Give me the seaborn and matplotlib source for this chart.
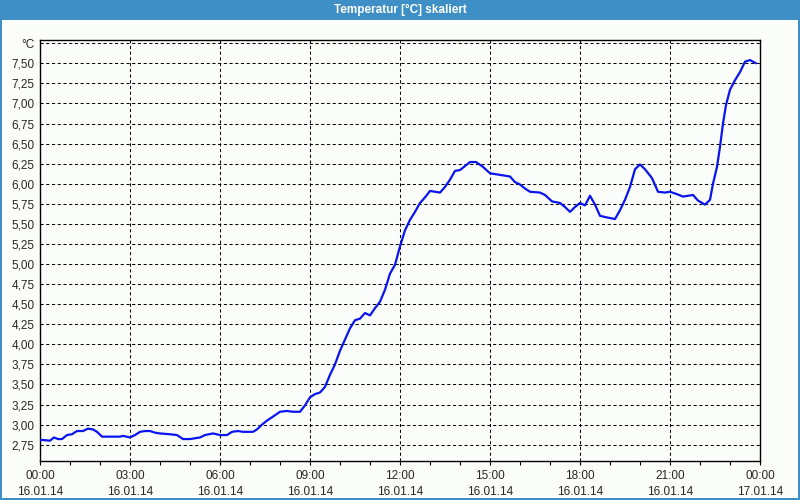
import matplotlib
matplotlib.use("Agg")
import matplotlib.pyplot as plt
import seaborn as sns
import pandas as pd
from matplotlib.patches import Rectangle
from matplotlib.ticker import FixedLocator, MultipleLocator

# ---- data (minutes after 16.01.14 00:00, temperature in °C) ----
minutes = [0, 3, 20, 28, 36, 44, 54, 64, 74, 86, 96, 106, 114, 124, 140, 160, 166, 180,
           190, 200, 210, 220, 230, 240, 260, 274, 286, 300, 320, 330, 346, 360, 374,
           384, 396, 406, 426, 434, 444, 454, 466, 480, 494, 506, 520, 530, 540, 550,
           560, 570, 580, 590, 600, 610, 620, 630, 640, 650, 660, 670, 680, 690, 700,
           710, 720, 730, 740, 750, 760, 770, 780, 790, 800, 810, 820, 830, 840, 850,
           860, 872, 886, 900, 910, 920, 940, 950, 960, 970, 980, 1000, 1010, 1024,
           1040, 1050, 1060, 1070, 1080, 1090, 1100, 1110, 1120, 1134, 1150, 1160,
           1170, 1180, 1190, 1200, 1210, 1224, 1236, 1250, 1260, 1274, 1286, 1306,
           1316, 1330, 1340, 1346, 1354, 1360, 1366, 1372, 1380, 1390, 1400, 1410,
           1420, 1432]
temps = [2.80, 2.81, 2.80, 2.84, 2.82, 2.82, 2.87, 2.88, 2.92, 2.92, 2.95, 2.94, 2.91,
         2.85, 2.85, 2.85, 2.86, 2.84, 2.87, 2.91, 2.92, 2.92, 2.90, 2.89, 2.88, 2.87,
         2.82, 2.82, 2.84, 2.87, 2.89, 2.87, 2.87, 2.91, 2.92, 2.91, 2.91, 2.94, 3.00,
         3.05, 3.10, 3.16, 3.17, 3.16, 3.16, 3.24, 3.34, 3.38, 3.40, 3.47, 3.62, 3.75,
         3.92, 4.06, 4.20, 4.30, 4.32, 4.39, 4.36, 4.45, 4.53, 4.68, 4.88, 4.99, 5.22,
         5.42, 5.55, 5.65, 5.76, 5.83, 5.91, 5.90, 5.89, 5.96, 6.05, 6.16, 6.17, 6.22,
         6.27, 6.27, 6.21, 6.13, 6.12, 6.11, 6.09, 6.02, 5.99, 5.94, 5.90, 5.89, 5.86,
         5.78, 5.76, 5.71, 5.65, 5.71, 5.76, 5.73, 5.85, 5.74, 5.60, 5.58, 5.56, 5.67,
         5.80, 5.96, 6.18, 6.24, 6.18, 6.07, 5.90, 5.89, 5.90, 5.87, 5.84, 5.86, 5.79,
         5.74, 5.80, 6.00, 6.21, 6.46, 6.75, 6.98, 7.17, 7.29, 7.39, 7.52, 7.54, 7.50]

x_tick_hours = [0, 3, 6, 9, 12, 15, 18, 21, 24]
x_tick_labels = ["00:00\n16.01.14", "03:00\n16.01.14", "06:00\n16.01.14",
                 "09:00\n16.01.14", "12:00\n16.01.14", "15:00\n16.01.14",
                 "18:00\n16.01.14", "21:00\n16.01.14", "00:00\n17.01.14"]
y_ticks = [2.75, 3.00, 3.25, 3.50, 3.75, 4.00, 4.25, 4.50, 4.75, 5.00, 5.25, 5.50,
           5.75, 6.00, 6.25, 6.50, 6.75, 7.00, 7.25, 7.50, 7.75]
y_tick_labels = ["2,75", "3,00", "3,25", "3,50", "3,75", "4,00", "4,25", "4,50",
                 "4,75", "5,00", "5,25", "5,50", "5,75", "6,00", "6,25", "6,50",
                 "6,75", "7,00", "7,25", "7,50", "°C"]
title = "Temperatur [°C] skaliert"

df = pd.DataFrame({"hours": [m / 60 for m in minutes], "temp": temps})

sns.set_style("white")
plt.rcParams["font.family"] = ["Liberation Sans", "DejaVu Sans"]

BG = "#FAFDFA"
BLUE_BAR = "#3D8FC6"

fig = plt.figure(figsize=(8, 5), dpi=100, facecolor=BG)
ax = fig.add_axes([40 / 800, (500 - 460.5) / 500, 720 / 800, (460.5 - 40) / 500])
ax.set_facecolor(BG)

sns.lineplot(data=df, x="hours", y="temp", ax=ax, color="#0A14EE",
             linewidth=1.6, zorder=3)

ax.set_xlim(0, 24)
ax.set_ylim(2.553, 7.79)

ax.xaxis.set_major_locator(FixedLocator(x_tick_hours))
ax.set_xticklabels(x_tick_labels)
ax.xaxis.set_minor_locator(MultipleLocator(1))
ax.set_yticks(y_ticks)
ax.set_yticklabels(y_tick_labels)

ax.tick_params(axis="x", which="both", direction="out", length=3, width=0.8,
               color="black", bottom=True, labelsize=8.5, pad=4)
ax.tick_params(axis="y", which="both", length=0, labelsize=8.5, pad=4, left=False)
for lbl in ax.get_xticklabels():
    lbl.set_linespacing(1.45)

ax.set_xlabel("")
ax.set_ylabel("")

grid_kw = dict(color="black", linewidth=0.75, linestyle=(0, (3, 2.5)), zorder=1)
for yv in y_ticks:
    ax.axhline(yv, **grid_kw)
for xv in x_tick_hours[1:-1]:
    ax.axvline(xv, **grid_kw)

for s in ax.spines.values():
    s.set_visible(True)
    s.set_color("black")
    s.set_linewidth(1.0)

# title bar and window border
fig.patches.append(Rectangle((0, 480 / 500), 1, 20 / 500, transform=fig.transFigure,
                             facecolor=BLUE_BAR, edgecolor="none", zorder=0))
fig.patches.append(Rectangle((0, 0), 1.5 / 800, 1, transform=fig.transFigure,
                             facecolor=BLUE_BAR, edgecolor="none", zorder=0))
fig.patches.append(Rectangle((1 - 2 / 800, 0), 2 / 800, 1, transform=fig.transFigure,
                             facecolor=BLUE_BAR, edgecolor="none", zorder=0))
fig.patches.append(Rectangle((0, 0), 1, 2 / 500, transform=fig.transFigure,
                             facecolor=BLUE_BAR, edgecolor="none", zorder=0))
fig.text(0.5, 490 / 500, title, color="white", fontsize=8.5, fontweight="bold",
         ha="center", va="center")

fig.savefig("out.png", dpi=100, facecolor=BG)
